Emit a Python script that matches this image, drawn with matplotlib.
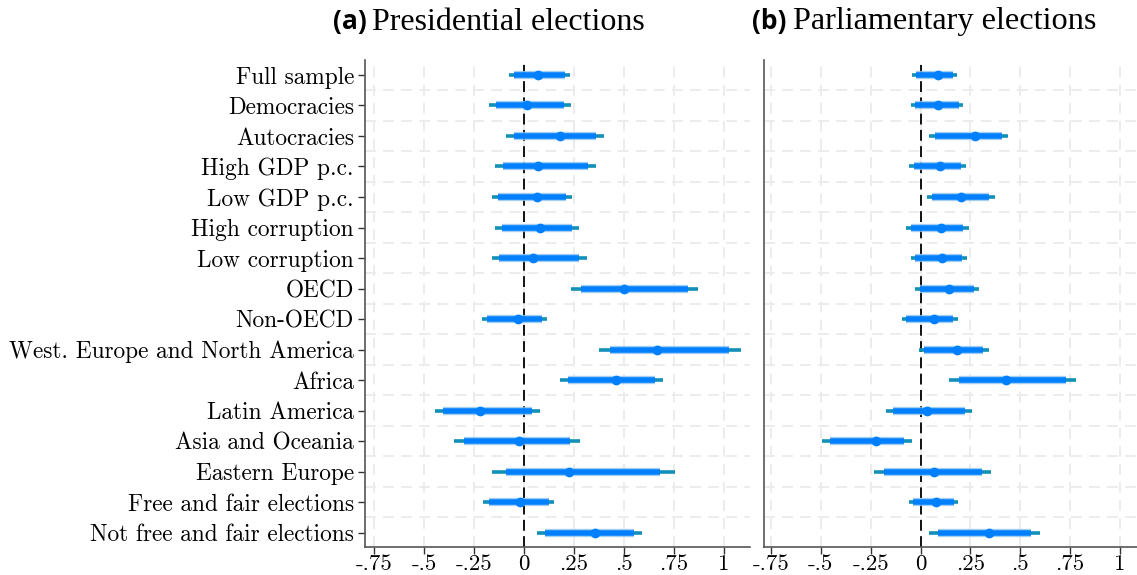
import numpy as np
import matplotlib
matplotlib.use("Agg")
import matplotlib.pyplot as plt

labels = ["Full sample", "Democracies", "Autocracies", "High GDP p.c.", "Low GDP p.c.",
          "High corruption", "Low corruption", "OECD", "Non-OECD",
          "West. Europe and North America", "Africa", "Latin America",
          "Asia and Oceania", "Eastern Europe", "Free and fair elections",
          "Not free and fair elections"]

# presidential elections: point estimate, 90% and 95% intervals
pres_est = [0.068, 0.013, 0.182, 0.070, 0.067, 0.080, 0.045, 0.500,
            -0.032, 0.667, 0.462, -0.220, -0.027, 0.225, -0.022, 0.357]
pres_lo90 = [-0.050, -0.140, -0.050, -0.103, -0.128, -0.110, -0.123, 0.285,
             -0.187, 0.430, 0.222, -0.403, -0.300, -0.090, -0.173, 0.105]
pres_hi90 = [0.205, 0.200, 0.360, 0.318, 0.208, 0.240, 0.275, 0.818,
             0.088, 1.027, 0.653, 0.038, 0.230, 0.680, 0.125, 0.550]
pres_lo95 = [-0.075, -0.173, -0.088, -0.143, -0.160, -0.143, -0.160, 0.235,
             -0.212, 0.373, 0.180, -0.447, -0.352, -0.162, -0.203, 0.063]
pres_hi95 = [0.228, 0.233, 0.402, 0.358, 0.238, 0.273, 0.313, 0.868,
             0.117, 1.083, 0.695, 0.080, 0.282, 0.753, 0.152, 0.592]

# parliamentary elections
parl_est = [0.089, 0.089, 0.272, 0.097, 0.203, 0.101, 0.106, 0.141,
            0.069, 0.183, 0.426, 0.030, -0.221, 0.069, 0.079, 0.342]
parl_lo90 = [-0.022, -0.027, 0.074, -0.034, 0.057, -0.047, -0.027, -0.002,
             -0.072, 0.017, 0.193, -0.136, -0.455, -0.185, -0.039, 0.089]
parl_hi90 = [0.164, 0.194, 0.406, 0.204, 0.344, 0.214, 0.206, 0.268,
             0.161, 0.312, 0.728, 0.224, -0.081, 0.307, 0.169, 0.554]
parl_lo95 = [-0.042, -0.047, 0.043, -0.057, 0.030, -0.072, -0.050, -0.027,
             -0.094, -0.010, 0.144, -0.171, -0.492, -0.233, -0.057, 0.043]
parl_hi95 = [0.183, 0.215, 0.438, 0.226, 0.372, 0.241, 0.231, 0.295,
             0.186, 0.342, 0.778, 0.258, -0.044, 0.352, 0.189, 0.600]

xticks = [-0.75, -0.5, -0.25, 0, 0.25, 0.5, 0.75, 1]
xticklabels = ["-.75", "-.5", "-.25", "0", ".25", ".5", ".75", "1"]

plt.rcParams["font.family"] = ["cmr10", "DejaVu Serif"]

fig = plt.figure(figsize=(11.37, 5.75), dpi=100)
W, H = 1137, 575
ax1 = fig.add_axes([365 / W, 1 - 547 / H, (750 - 365) / W, (547 - 60) / H])
ax2 = fig.add_axes([764 / W, 1 - 547 / H, (1137 - 764) / W, (547 - 60) / H])

y = np.arange(1, len(labels) + 1)


def draw(ax, est, lo90, hi90, lo95, hi95, xlim):
    ax.hlines(y, lo95, hi95, color="#1390b8", lw=2.6, zorder=3)
    ax.hlines(y, lo90, hi90, color="#8cc4f0", lw=6.0, alpha=0.8, zorder=4)
    ax.hlines(y, lo90, hi90, color="#0080ff", lw=4.0, zorder=5)
    ax.plot(est, y, "o", color="#0080ff", ms=6, zorder=6)
    ax.axvline(0, color="black", lw=1.3, ls=(0, (6, 3)), zorder=2)
    ax.set_xlim(*xlim)
    ax.set_ylim(16.47, 0.51)
    ax.set_xticks(xticks)
    ax.set_xticklabels(xticklabels, fontsize=16.5)
    ax.set_yticks(y)
    ax.set_yticks(np.arange(1.5, 16, 1), minor=True)
    ax.grid(True, which="major", axis="x", color="#ebebeb", lw=1.3, ls=(0, (6, 4)))
    ax.grid(True, which="minor", axis="y", color="#ebebeb", lw=1.3, ls=(0, (6, 4)))
    ax.tick_params(axis="y", which="minor", length=0)
    ax.tick_params(axis="y", which="major", length=5, width=1, color="#333333", pad=3)
    ax.tick_params(axis="x", which="major", length=5, width=1, color="#333333", pad=0.5)
    for s in ["top", "right"]:
        ax.spines[s].set_visible(False)
    for s in ["left", "bottom"]:
        ax.spines[s].set_color("#555555")
        ax.spines[s].set_linewidth(1.2)
    ax.set_axisbelow(True)


draw(ax1, pres_est, pres_lo90, pres_hi90, pres_lo95, pres_hi95, (-0.795, 1.13))
draw(ax2, parl_est, parl_lo90, parl_hi90, parl_lo95, parl_hi95, (-0.785, 1.085))

ax1.set_yticklabels(labels, fontsize=16.8)
ax2.set_yticklabels([])
ax2.tick_params(axis="y", which="major", length=0)

# panel titles
fig.text(333 / W, 1 - 22 / H, "(a)", fontsize=19, fontweight="bold",
         family="Open Sans", va="center", ha="left")
fig.text(372 / W, 1 - 22 / H, "Presidential elections", fontsize=23,
         family="Liberation Serif", va="center", ha="left")
fig.text(752 / W, 1 - 22 / H, "(b)", fontsize=19, fontweight="bold",
         family="Open Sans", va="center", ha="left")
fig.text(793 / W, 1 - 22 / H, "Parliamentary elections", fontsize=23.2,
         family="Liberation Serif", va="center", ha="left")

fig.savefig("out.png", dpi=100)
